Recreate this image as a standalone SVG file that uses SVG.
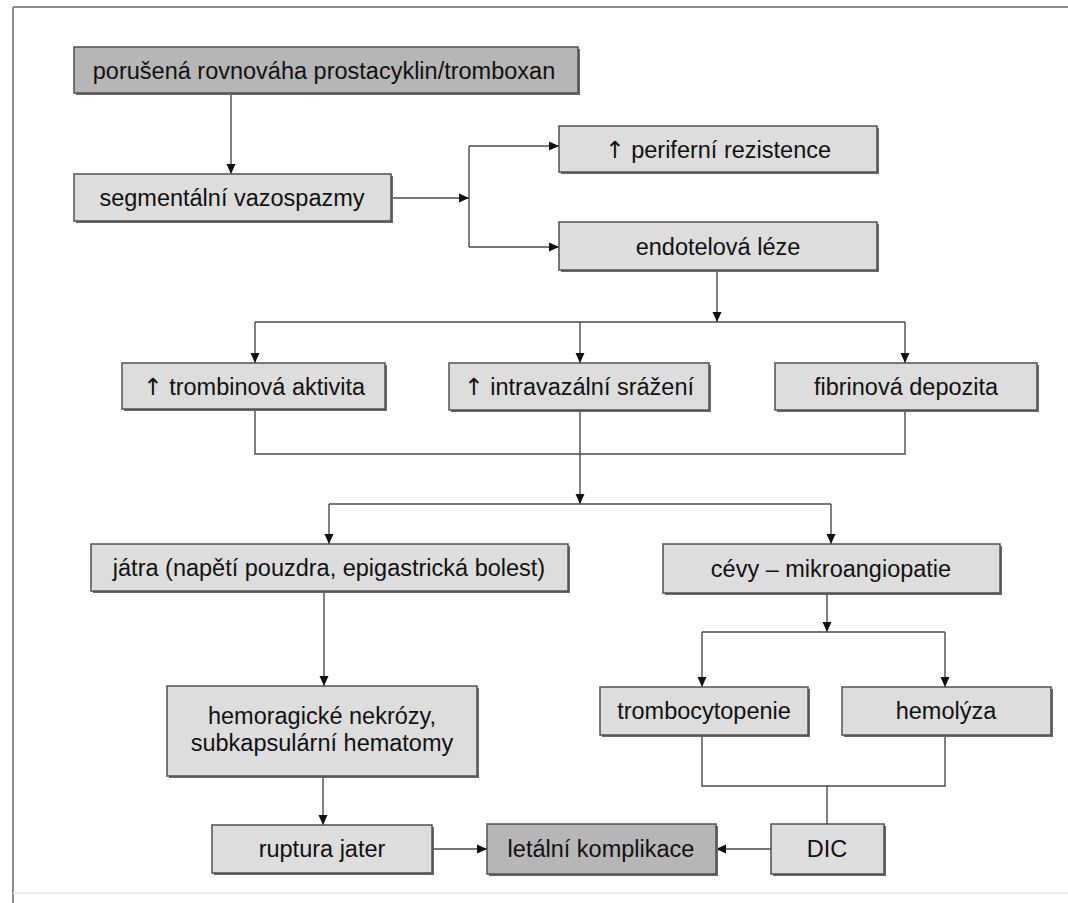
<svg xmlns="http://www.w3.org/2000/svg" width="1068" height="903" viewBox="0 0 1068 903">
<defs>
<style>
.sh{fill:#6a6a6a}
.bx{fill:#dddddd;stroke:#505050;stroke-width:1.5}
.dk{fill:#b6b6b6;stroke:#505050;stroke-width:1.5}
.t{font-family:"Liberation Sans",Arial,sans-serif;font-size:23.5px;fill:#111111;text-anchor:middle}
.up{font-family:"DejaVu Sans",sans-serif;fill:#111111}
.c{fill:none;stroke:#4a4a4a;stroke-width:1.4}
.a{marker-end:url(#ah)}
</style>
<marker id="ah" viewBox="0 0 10 10" refX="10" refY="5" markerWidth="10" markerHeight="10" markerUnits="userSpaceOnUse" orient="auto">
<path d="M0,0.5 L10,5 L0,9.5 z" fill="#111"/>
</marker>
</defs>
<rect x="0" y="0" width="1068" height="903" fill="#ffffff"/>
<g id="frame">
<line x1="13" y1="7" x2="1068" y2="7" stroke="#8c8c8c" stroke-width="2"/>
<line x1="13" y1="7" x2="13" y2="903" stroke="#8c8c8c" stroke-width="2"/>
<line x1="13" y1="893" x2="1068" y2="893" stroke="#e8e8e8" stroke-width="1.5"/>
</g>
<g id="connectors">
<path class="c a" d="M231,93 V174"/>
<path class="c a" d="M391,198 H469"/>
<path class="c" d="M469,146 V247"/>
<path class="c a" d="M469,146 H559"/>
<path class="c a" d="M469,247 H559"/>
<path class="c a" d="M717,270 V322"/>
<path class="c" d="M255,322 H905"/>
<path class="c a" d="M255,322 V363"/>
<path class="c a" d="M580,322 V363"/>
<path class="c a" d="M905,322 V363"/>
<path class="c" d="M255,409 V454 H905 V410"/>
<path class="c a" d="M580,410 V504"/>
<path class="c" d="M329,504 H831"/>
<path class="c a" d="M329,504 V544"/>
<path class="c a" d="M831,504 V544"/>
<path class="c a" d="M324,591 V686"/>
<path class="c a" d="M323,776 V825"/>
<path class="c a" d="M827,593 V632"/>
<path class="c" d="M702,632 H945"/>
<path class="c a" d="M702,632 V687"/>
<path class="c a" d="M945,632 V687"/>
<path class="c" d="M702,735 V786 H945 V735"/>
<path class="c" d="M827,786 V824"/>
<path class="c a" d="M432,849 H487"/>
<path class="c a" d="M771,849 H716"/>
</g>
<g id="n1"><rect class="sh" x="76" y="49" width="504" height="46"/><rect class="dk" x="74" y="47" width="504" height="46"/><text class="t" x="324" y="79">porušená rovnováha prostacyklin/tromboxan</text></g>
<g id="n2"><rect class="sh" x="76" y="176" width="317" height="47"/><rect class="bx" x="74" y="174" width="317" height="47"/><text class="t" x="232" y="206">segmentální vazospazmy</text></g>
<g id="n3"><rect class="sh" x="561" y="128" width="318" height="46"/><rect class="bx" x="559" y="126" width="318" height="46"/><text class="t" x="718" y="158"><tspan class="up">↑</tspan> periferní rezistence</text></g>
<g id="n4"><rect class="sh" x="561" y="224" width="318" height="48"/><rect class="bx" x="559" y="222" width="318" height="48"/><text class="t" x="718" y="255">endotelová léze</text></g>
<g id="n5"><rect class="sh" x="124" y="365" width="263" height="46"/><rect class="bx" x="122" y="363" width="263" height="46"/><text class="t" x="254" y="395"><tspan class="up">↑</tspan> trombinová aktivita</text></g>
<g id="n6"><rect class="sh" x="451" y="365" width="260" height="47"/><rect class="bx" x="449" y="363" width="260" height="47"/><text class="t" x="579" y="395"><tspan class="up">↑</tspan> intravazální srážení</text></g>
<g id="n7"><rect class="sh" x="777" y="365" width="262" height="47"/><rect class="bx" x="775" y="363" width="262" height="47"/><text class="t" x="906" y="395">fibrinová depozita</text></g>
<g id="n8"><rect class="sh" x="93" y="546" width="477" height="47"/><rect class="bx" x="91" y="544" width="477" height="47"/><text class="t" x="329" y="576">játra (napětí pouzdra, epigastrická bolest)</text></g>
<g id="n9"><rect class="sh" x="665" y="546" width="337" height="49"/><rect class="bx" x="663" y="544" width="337" height="49"/><text class="t" x="831" y="577">cévy – mikroangiopatie</text></g>
<g id="n10"><rect class="sh" x="169" y="688" width="310" height="90"/><rect class="bx" x="167" y="686" width="310" height="90"/><text class="t" x="322" y="724">hemoragické nekrózy,</text><text class="t" x="322" y="751">subkapsulární hematomy</text></g>
<g id="n11"><rect class="sh" x="602" y="689" width="208" height="48"/><rect class="bx" x="600" y="687" width="208" height="48"/><text class="t" x="704" y="719">trombocytopenie</text></g>
<g id="n12"><rect class="sh" x="844" y="689" width="209" height="48"/><rect class="bx" x="842" y="687" width="209" height="48"/><text class="t" x="946" y="719">hemolýza</text></g>
<g id="n13"><rect class="sh" x="214" y="827" width="220" height="48"/><rect class="bx" x="212" y="825" width="220" height="48"/><text class="t" x="322" y="857">ruptura jater</text></g>
<g id="n14"><rect class="sh" x="489" y="826" width="229" height="50"/><rect class="dk" x="487" y="824" width="229" height="50"/><text class="t" x="601" y="857">letální komplikace</text></g>
<g id="n15"><rect class="sh" x="773" y="826" width="113" height="50"/><rect class="bx" x="771" y="824" width="113" height="50"/><text class="t" x="827" y="857">DIC</text></g>
</svg>
